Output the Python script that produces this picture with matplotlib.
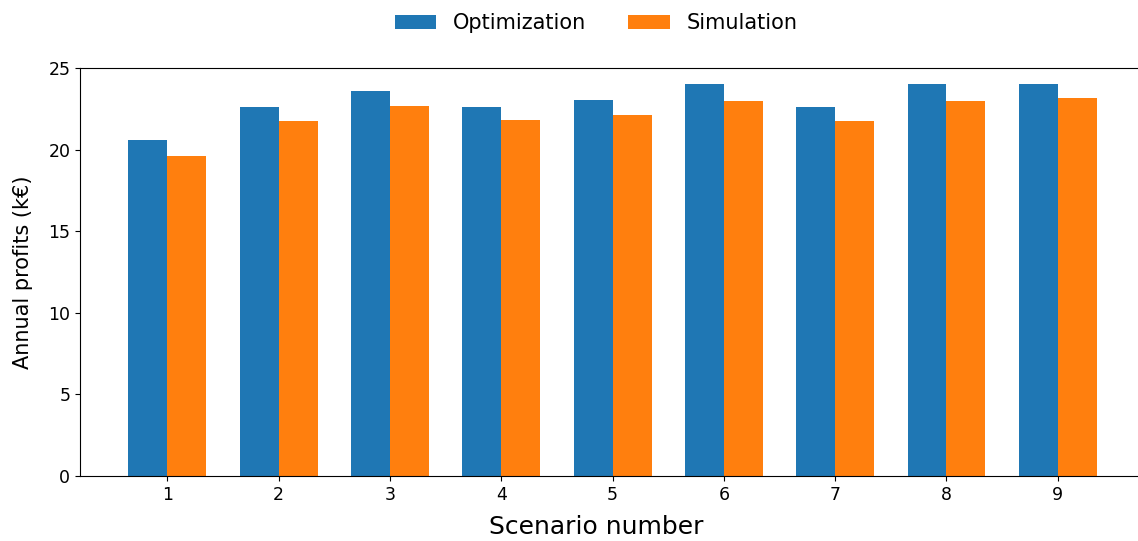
import numpy as np
import matplotlib.pyplot as plt

scenarios = [1, 2, 3, 4, 5, 6, 7, 8, 9]
optimization = [20.6, 22.65, 23.6, 22.65, 23.05, 24.0, 22.65, 24.0, 24.0]
simulation = [19.6, 21.75, 22.7, 21.8, 22.1, 23.0, 21.75, 23.0, 23.15]

fig = plt.figure(figsize=(11.38, 5.41), dpi=100)
ax = fig.add_axes([0.0703, 0.120, 0.936, 0.754])

x = np.array(scenarios)
w = 0.35
ax.bar(x - w / 2, optimization, w, color='#1f77b4', label='Optimization')
ax.bar(x + w / 2, simulation, w, color='#ff7f0e', label='Simulation')

ax.set_xticks(x)
ax.set_ylim(0, 25)
ax.tick_params(labelsize=12.5)
ax.set_xlabel('Scenario number', fontsize=18)
ax.xaxis.set_label_coords(0.485, -0.095, transform=ax.transAxes)
ax.xaxis.label.set_va('top')
ax.set_ylabel('Annual profits (k€)', fontsize=15, labelpad=11)
ax.spines['right'].set_visible(False)

ax.legend(loc='lower center', bbox_to_anchor=(0.4845, 1.05), ncol=2, frameon=False,
          fontsize=15, handlelength=2.0, columnspacing=2.0, borderaxespad=0.3)

fig.savefig('out.png', dpi=100)
